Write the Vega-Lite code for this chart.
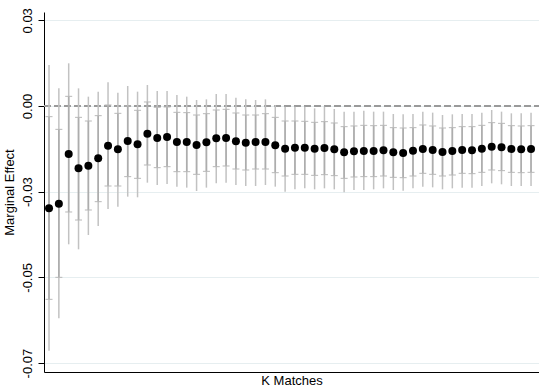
{
  "$schema": "https://vega.github.io/schema/vega-lite/v6.json",
  "autosize": "none",
  "width": 495,
  "height": 360,
  "padding": {"left": 44, "top": 12, "right": 0, "bottom": 17},
  "background": "white",
  "config": {
    "font": "Liberation Sans",
    "view": {"stroke": null},
    "axis": {"labelFont": "Liberation Sans", "titleFont": "Liberation Sans", "labelColor": "#000", "titleColor": "#000", "titleFontWeight": "normal"}
  },
  "data": {
    "values": [
      {"k": 1, "est": -0.02985, "lo95": -0.07137, "hi95": 0.01196, "lo90": -0.0564, "hi90": -0.00311},
      {"k": 2, "est": -0.02849, "lo95": -0.06194, "hi95": 0.00515, "lo90": -0.04998, "hi90": -0.00681},
      {"k": 3, "est": -0.0140, "lo95": -0.04035, "hi95": 0.01245, "lo90": -0.03092, "hi90": 0.00282},
      {"k": 4, "est": -0.01818, "lo95": -0.04181, "hi95": 0.00515, "lo90": -0.03326, "hi90": -0.00331},
      {"k": 5, "est": -0.01741, "lo95": -0.03763, "hi95": 0.00272, "lo90": -0.03034, "hi90": -0.00438},
      {"k": 6, "est": -0.01527, "lo95": -0.03501, "hi95": 0.00418, "lo90": -0.02791, "hi90": -0.00282},
      {"k": 7, "est": -0.01157, "lo95": -0.03005, "hi95": 0.0069, "lo90": -0.02334, "hi90": 0.00029},
      {"k": 8, "est": -0.01264, "lo95": -0.02937, "hi95": 0.00389, "lo90": -0.02334, "hi90": -0.00214},
      {"k": 9, "est": -0.01021, "lo95": -0.02645, "hi95": 0.00583, "lo90": -0.02061, "hi90": 0.0},
      {"k": 10, "est": -0.01118, "lo95": -0.02664, "hi95": 0.00418, "lo90": -0.0211, "hi90": -0.00126},
      {"k": 11, "est": -0.00807, "lo95": -0.02237, "hi95": 0.00613, "lo90": -0.01721, "hi90": 0.00117},
      {"k": 12, "est": -0.00933, "lo95": -0.02305, "hi95": 0.00438, "lo90": -0.01799, "hi90": -0.00039},
      {"k": 13, "est": -0.00904, "lo95": -0.02275, "hi95": 0.00438, "lo90": -0.0177, "hi90": -0.00029},
      {"k": 14, "est": -0.0105, "lo95": -0.02353, "hi95": 0.00321, "lo90": -0.01916, "hi90": -0.00185},
      {"k": 15, "est": -0.0105, "lo95": -0.02382, "hi95": 0.00272, "lo90": -0.01916, "hi90": -0.00194},
      {"k": 16, "est": -0.01138, "lo95": -0.0248, "hi95": 0.00175, "lo90": -0.01993, "hi90": -0.00263},
      {"k": 17, "est": -0.0106, "lo95": -0.02382, "hi95": 0.00194, "lo90": -0.01906, "hi90": -0.00224},
      {"k": 18, "est": -0.00943, "lo95": -0.02256, "hi95": 0.0035, "lo90": -0.0177, "hi90": -0.00117},
      {"k": 19, "est": -0.00933, "lo95": -0.02237, "hi95": 0.0035, "lo90": -0.0175, "hi90": -0.00097},
      {"k": 20, "est": -0.01031, "lo95": -0.02305, "hi95": 0.00243, "lo90": -0.01838, "hi90": -0.00204},
      {"k": 21, "est": -0.0107, "lo95": -0.02334, "hi95": 0.00194, "lo90": -0.01867, "hi90": -0.00263},
      {"k": 22, "est": -0.0105, "lo95": -0.02334, "hi95": 0.00175, "lo90": -0.01838, "hi90": -0.00263},
      {"k": 23, "est": -0.0105, "lo95": -0.02305, "hi95": 0.00194, "lo90": -0.01838, "hi90": -0.00224},
      {"k": 24, "est": -0.01147, "lo95": -0.02353, "hi95": 0.00029, "lo90": -0.01945, "hi90": -0.00331},
      {"k": 25, "est": -0.01245, "lo95": -0.02499, "hi95": -0.00019, "lo90": -0.02042, "hi90": -0.00438},
      {"k": 26, "est": -0.01215, "lo95": -0.02431, "hi95": -0.00019, "lo90": -0.01993, "hi90": -0.00438},
      {"k": 27, "est": -0.01215, "lo95": -0.02402, "hi95": -0.00019, "lo90": -0.01993, "hi90": -0.00447},
      {"k": 28, "est": -0.01245, "lo95": -0.02431, "hi95": -0.00068, "lo90": -0.02023, "hi90": -0.00476},
      {"k": 29, "est": -0.01225, "lo95": -0.02402, "hi95": -0.00019, "lo90": -0.02003, "hi90": -0.00457},
      {"k": 30, "est": -0.01264, "lo95": -0.02431, "hi95": -0.00088, "lo90": -0.02032, "hi90": -0.00496},
      {"k": 31, "est": -0.01352, "lo95": -0.02519, "hi95": -0.00165, "lo90": -0.0211, "hi90": -0.00603},
      {"k": 32, "est": -0.01322, "lo95": -0.0245, "hi95": -0.00165, "lo90": -0.02071, "hi90": -0.00583},
      {"k": 33, "est": -0.01313, "lo95": -0.0245, "hi95": -0.00136, "lo90": -0.02061, "hi90": -0.00564},
      {"k": 34, "est": -0.01313, "lo95": -0.02431, "hi95": -0.00165, "lo90": -0.02061, "hi90": -0.00574},
      {"k": 35, "est": -0.01293, "lo95": -0.02402, "hi95": -0.00165, "lo90": -0.02042, "hi90": -0.00564},
      {"k": 36, "est": -0.01352, "lo95": -0.0245, "hi95": -0.00233, "lo90": -0.02081, "hi90": -0.00632},
      {"k": 37, "est": -0.01371, "lo95": -0.0247, "hi95": -0.00243, "lo90": -0.02091, "hi90": -0.00642},
      {"k": 38, "est": -0.01303, "lo95": -0.02402, "hi95": -0.00233, "lo90": -0.02042, "hi90": -0.00632},
      {"k": 39, "est": -0.01254, "lo95": -0.02353, "hi95": -0.00165, "lo90": -0.01964, "hi90": -0.00554},
      {"k": 40, "est": -0.01284, "lo95": -0.02373, "hi95": -0.00194, "lo90": -0.01993, "hi90": -0.00583},
      {"k": 41, "est": -0.01342, "lo95": -0.02431, "hi95": -0.00263, "lo90": -0.02042, "hi90": -0.00642},
      {"k": 42, "est": -0.01313, "lo95": -0.02402, "hi95": -0.00243, "lo90": -0.02013, "hi90": -0.00632},
      {"k": 43, "est": -0.01284, "lo95": -0.02382, "hi95": -0.00233, "lo90": -0.01964, "hi90": -0.00603},
      {"k": 44, "est": -0.01293, "lo95": -0.02382, "hi95": -0.00233, "lo90": -0.01974, "hi90": -0.00603},
      {"k": 45, "est": -0.01245, "lo95": -0.02334, "hi95": -0.00194, "lo90": -0.01935, "hi90": -0.00564},
      {"k": 46, "est": -0.01186, "lo95": -0.02256, "hi95": -0.00117, "lo90": -0.01867, "hi90": -0.00486},
      {"k": 47, "est": -0.01206, "lo95": -0.02285, "hi95": -0.00165, "lo90": -0.01886, "hi90": -0.00506},
      {"k": 48, "est": -0.01254, "lo95": -0.02334, "hi95": -0.00214, "lo90": -0.01935, "hi90": -0.00574},
      {"k": 49, "est": -0.01264, "lo95": -0.02334, "hi95": -0.00214, "lo90": -0.01945, "hi90": -0.00583},
      {"k": 50, "est": -0.01254, "lo95": -0.02334, "hi95": -0.00194, "lo90": -0.01935, "hi90": -0.00574}
    ]
  },
  "encoding": {
    "x": {
      "field": "k",
      "type": "quantitative",
      "scale": {"domain": [0.49, 50.81], "nice": false, "zero": false},
      "axis": {
        "title": "K Matches",
        "titleFontSize": 13,
        "titlePadding": 2,
        "labels": false,
        "ticks": false,
        "grid": false,
        "domainColor": "#000",
        "domainWidth": 1
      }
    }
  },
  "layer": [
    {
      "mark": {"type": "rule", "color": "#9a9a9a", "strokeWidth": 1.3, "strokeDash": [7, 3]},
      "encoding": {"x": {"value": 0}, "x2": {"value": 495}, "y": {"datum": 0, "type": "quantitative"}}
    },
    {
      "mark": {"type": "rule", "color": "#c2c2c2", "strokeWidth": 1.5},
      "encoding": {
        "y": {
          "field": "lo95",
          "type": "quantitative",
          "scale": {"domain": [-0.0776, 0.02742], "nice": false, "zero": false},
          "axis": {
            "title": "Marginal Effect",
            "titleFontSize": 13,
            "titlePadding": 5,
            "values": [0.025, 0, -0.025, -0.05, -0.075],
            "labelExpr": "replace(format(datum.value, '.2f'), '\u2212', '-')",
            "labelAngle": -90,
            "labelFontSize": 13,
            "labelPadding": 4,
            "tickSize": 6,
            "tickColor": "#000",
            "domainColor": "#000",
            "domainWidth": 1,
            "grid": true,
            "gridColor": "#e6eef0",
            "gridWidth": 1
          }
        },
        "y2": {"field": "hi95"}
      }
    },
    {
      "mark": {"type": "rule", "color": "#adadad", "strokeWidth": 1.6},
      "encoding": {"y": {"field": "lo90", "type": "quantitative"}, "y2": {"field": "hi90"}}
    },
    {
      "mark": {"type": "tick", "orient": "horizontal", "color": "#b8b8b8", "size": 7, "thickness": 1, "opacity": 1},
      "encoding": {"y": {"field": "lo90", "type": "quantitative"}}
    },
    {
      "mark": {"type": "tick", "orient": "horizontal", "color": "#b8b8b8", "size": 7, "thickness": 1, "opacity": 1},
      "encoding": {"y": {"field": "hi90", "type": "quantitative"}}
    },
    {
      "mark": {"type": "circle", "color": "#000", "size": 64, "opacity": 1},
      "encoding": {"y": {"field": "est", "type": "quantitative"}}
    }
  ]
}
